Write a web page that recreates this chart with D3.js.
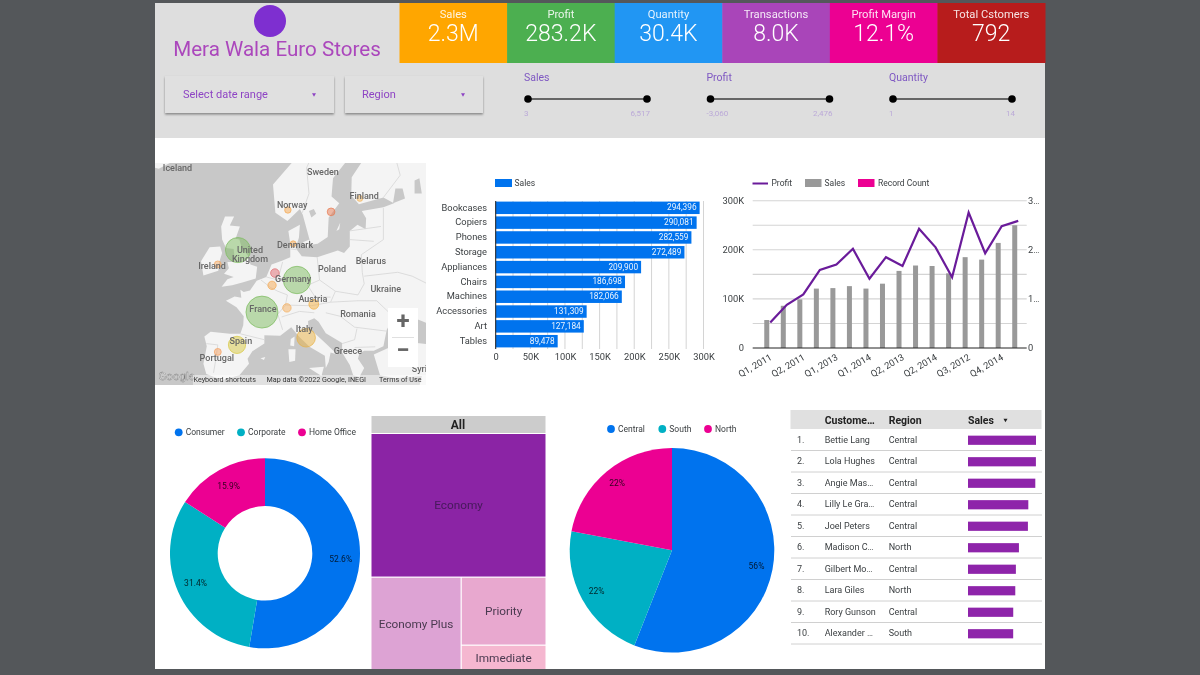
<!DOCTYPE html>
<html><head><meta charset="utf-8">
<script src="https://cdn.jsdelivr.net/npm/d3@7"></script>
<style>
html,body{margin:0;padding:0;background:#54575a;overflow:hidden}
svg{display:block;font-family:Roboto,sans-serif;filter:blur(.35px)}
</style></head><body><svg id="c" width="1200" height="675"></svg>
<script>
// ---------- data ----------
const kpiLabels=["Sales","Profit","Quantity","Transactions","Profit Margin","Total Cstomers"];
const kpiValues=["2.3M","283.2K","30.4K","8.0K","12.1%","792"];
const kpiColors=["#ffa600","#4caf50","#2196f3","#a945b9","#ec0092","#b71c1c"];
const sliderNames=["Sales","Profit","Quantity"];
const sliderMins=["3","-3,060","1"];
const sliderMaxs=["6,517","2,476","14"];

const subCategories=["Bookcases","Copiers","Phones","Storage","Appliances","Chairs","Machines","Accessories","Art","Tables"];
const subCategorySales=[294396,290081,282559,272489,209900,186698,182066,131309,127184,89478];

const quarters=["Q1, 2011","Q3, 2011","Q2, 2011","Q1, 2012","Q1, 2013","Q2, 2012","Q1, 2014","Q4, 2011","Q2, 2013","Q3, 2013","Q2, 2014","Q4, 2012","Q3, 2012","Q4, 2013","Q4, 2014","Q3, 2014"];
const quarterSales=[57000,86000,99000,121000,122000,126000,121000,131000,157000,168000,167000,152000,185000,180000,214000,250000];
const quarterProfit=[5200,8800,10900,15900,17000,20200,14100,18500,16700,24300,20500,14400,27600,19300,24800,25900];
const quarterTickLabels=["Q1, 2011","Q2, 2011","Q1, 2013","Q1, 2014","Q2, 2013","Q2, 2014","Q3, 2012","Q4, 2014"];

const segments=["Consumer","Corporate","Home Office"];
const segmentShare=[52.6,31.4,15.9];
const regions=["Central","South","North"];
const regionShare=[56,22,22];
const shipModes=["Economy","Economy Plus","Priority","Immediate"];
const shipModeShare=[60.6,20.3,13.9,5.2];

const customers=["Bettie Lang","Lola Hughes","Angie Mas…","Lilly Le Gra…","Joel Peters","Madison C…","Gilbert Mo…","Lara Giles","Rory Gunson","Alexander …"];
const customerRegions=["Central","Central","Central","Central","Central","North","Central","North","Central","South"];
const customerSales=[13620,13600,13480,12080,12000,10200,9590,9470,9060,9050];

const bubbleCountries=["France","Germany","United Kingdom","Italy","Spain","Austria","Switzerland","Netherlands","Belgium","Sweden","Ireland","Portugal","Norway","Denmark","Finland"];
const bubbleLon=[2.7,10,-2.3,11.9,-2.5,13.5,7.9,5.4,4.8,17.1,-6.5,-6.5,8.1,9.2,23.1];
const bubbleLat=[46.6,51,54.76,42.8,41.7,47.7,47.2,51.9,50.3,59.1,53,40.6,59.3,55.5,60.5];
const bubbleSales=[858,628,528,290,249,80,60,62,58,50,40,40,35,30,28];
const bubbleTint=["#7dbb5f","#7dbb5f","#7dbb5f","#e8b040","#d8c840","#f5b040","#f5b060","#e06a70","#f5a850","#e8784f","#f5a860","#f5a060","#f5a850","#f5a850","#f5b860"];
const labelNames=["Iceland","Sweden","Finland","Norway","Denmark","United Kingdom","Ireland","Germany","Poland","Belarus","Ukraine","Austria","France","Romania","Italy","Spain","Portugal","Greece","Syria"];
const labelLon=[-14.9,15.4,24,9,9.6,0.2,-7.7,9.2,17.3,25.4,28.5,13.3,2.9,22.7,11.5,-1.7,-6.7,20.6,36];
const labelLat=[63.46,63,60.66,59.8,55.26,54.2,52.66,51.1,52.4,53.4,49.7,48.3,46.9,46.2,44,42.2,39.6,40.7,37.8];

// rough coastlines, [lon,lat]
const landMain=[[-5.6,36],[-8.9,37],[-9.5,38.7],[-8.8,41.5],[-9.3,43],[-8,43.7],[-4,43.4],[-1.8,43.4],[-1.2,44.7],[-1.1,46],[-2.6,47.3],[-4.8,48.2],[-3,48.8],[-1.6,48.6],[-1.8,49.7],[-1.1,49.4],[0.2,49.6],[1.6,50.9],[3.6,51.4],[4.7,53],[7,53.5],[8.6,53.9],[8.6,55.5],[8.2,57],[10.6,57.7],[10.4,56.2],[9.7,55],[11,54],[14.2,53.9],[18.5,54.7],[19.8,54.4],[21,55.2],[21,57],[22.6,57.7],[24.3,57.2],[24.4,58.4],[23.5,59.2],[28,59.6],[30.2,60],[28,60.6],[22.9,59.9],[21.3,60.8],[21.4,62.6],[25.3,65.2],[22.2,65.8],[21.2,64.6],[17.5,62.5],[17.2,60.7],[18.8,60],[16.6,58.5],[16.4,56.3],[14.3,55.5],[12.9,55.4],[11.2,58.8],[10.6,59.4],[8,58.1],[5.5,59],[5,61.9],[10,64.5],[14.5,68],[19,70],[25,71],[31,70],[41,67],[60,68],[60,42],[41,41.5],[37,45],[33.5,46],[30.7,46.5],[28.7,44],[28,41.5],[26,40.8],[24,40.8],[23,40.4],[22.7,39.5],[24,38],[23,36.5],[21.7,36.8],[21,38.5],[19.4,40.5],[19.4,42],[16,43.5],[14.5,45.2],[13.6,45.7],[12.3,45.3],[12.4,44.2],[13.7,43.5],[16,41.9],[18.4,40.2],[17,40.5],[16.6,39],[16,38],[15.8,40],[12.6,41.4],[10.5,42.9],[8.8,44.4],[6.5,43.1],[3.2,43.2],[3.2,41.9],[0.7,40.7],[-0.3,39.5],[0,38.7],[-2,36.8]];
const landBritain=[[-5.7,50.1],[-3.5,50.3],[-1.2,50.7],[1.4,51.2],[1.7,52.7],[0.3,53],[-0.1,54],[-1.5,55],[-2,56],[-2.8,56.1],[-1.9,57.5],[-4,57.6],[-3.1,58.6],[-5,58.6],[-5.8,57.5],[-5.6,56],[-4.8,55],[-3.2,54.9],[-3,53.8],[-3.1,53.3],[-4.5,53.3],[-4.2,52.5],[-5.2,51.8],[-3.2,51.4],[-4.5,51.1]];
const landIreland=[[-6.2,53.3],[-6.4,52.2],[-9.5,51.6],[-10,53.4],[-8.2,55.1],[-6,55.2],[-5.6,54.4]];
const landIceland=[[-22.5,63.9],[-18.8,63.4],[-14.5,64.4],[-13.6,65.2],[-16,66.5],[-22,66.3],[-24,65]];
const landTurkey=[[26,40.2],[29,41.2],[35,42],[41.5,41.5],[60,40],[60,30],[36,30],[34.5,31.5],[36,36.7],[30.5,36.3],[27.3,36.8]];
const landAfrica=[[-6,35.2],[-2,34.8],[3,35],[11,35],[11,33],[-6,33]];
const landIslands=[[[8.4,39],[9.6,39.2],[9.7,41],[8.2,41]],[[8.6,41.6],[9.4,41.5],[9.5,43],[8.7,42.6]],[[12.5,38],[15.6,38.2],[15.1,36.7]],[[11.2,55.7],[12.6,56],[12.3,55]],[[2.4,39.6],[3.4,39.8],[3.1,39.3]],[[18.2,57],[19,57.9],[18.8,57.2]]];
const lakes=[[[30,60],[32.5,60.5],[32,61.5],[30.5,61.5]],[[34.5,61],[36,61],[35.5,62.5],[34.5,62.3]],[[13,58.5],[14,58.9],[13.5,59.4],[12.5,59.2]]];
const borders=[[[-1.8,43.4],[3.2,42.5]],[[-8.9,41.9],[-6.5,41.7],[-7,39],[-7.4,37.2]],[[2.5,51],[4.5,50],[6,49.5],[8,49],[7.6,47.6],[6,46.3],[7,44]],[[3.6,51.4],[6,51],[7,53.3]],[[8.7,54.9],[9.9,54.8]],[[14.2,53.9],[14.7,51],[18,49.5],[22.7,49],[24,50.5],[23.6,52],[23.4,54.2]],[[7.6,47.6],[13,47.5],[17,48],[18,49.5]],[[6.8,45.9],[10.5,46.7],[13.6,46.5]],[[14.7,51],[12.2,50.3],[13.8,48.7],[17,48.7]],[[17,48],[22.7,48.2],[26.6,48.2],[30,46]],[[16,46.5],[19,46],[22,44.4],[28.7,43.8]],[[23.4,54.2],[28,56],[28,59.5]],[[24,51.5],[31,52],[34,51.5],[40,49.6]],[[22,41.3],[26.3,41.4]],[[19.4,41.9],[22,42.5],[22.5,44.2]],[[11.1,59],[12.5,61],[12,63.5],[15,66.3],[18,68.5],[20.5,69],[24,68.6],[28.5,69]],[[23.9,66],[24,68.6]],[[28.5,69],[29.5,66],[31.5,62.8],[28,60.6]],[[21,56],[26,55.8]],[[21,57],[27.5,57.5]]];

// ---------- helpers ----------
const svg=d3.select("#c");
const ink="#3c4043";
function T(g,x,y,s,size,fill,anchor,weight){
  return g.append("text").attr("x",x).attr("y",y).text(s).attr("font-size",size).attr("fill",fill)
    .attr("text-anchor",anchor||"start").attr("font-weight",weight||400).attr("dominant-baseline","middle");
}
const defs=svg.append("defs");
const sh=defs.append("filter").attr("id","sh").attr("x","-5%").attr("y","-10%").attr("width","110%").attr("height","125%");
sh.append("feDropShadow").attr("dx",0).attr("dy",1.5).attr("stdDeviation",1).attr("flood-color","#000").attr("flood-opacity",.4);

// canvas
svg.append("rect").attr("x",155).attr("y",3).attr("width",890).attr("height",666).attr("fill","#fff");
svg.append("rect").attr("x",155).attr("y",3).attr("width",890).attr("height",135).attr("fill","#dedede");

// KPI tiles
const kx=d3.scaleBand().domain(kpiLabels).range([399.5,1045]);
kpiLabels.forEach((k,i)=>{
  const g=svg.append("g");
  g.append("rect").attr("x",kx(k)).attr("y",3).attr("width",kx.bandwidth()+.5).attr("height",60).attr("fill",kpiColors[i]);
  T(g,kx(k)+kx.bandwidth()/2,15,k,11.2,"rgba(255,255,255,.88)","middle");
  T(g,kx(k)+kx.bandwidth()/2,35,kpiValues[i],23,"#fff","middle",300);
});

// title
svg.append("circle").attr("cx",270).attr("cy",21).attr("r",16).attr("fill","#7e2fd0");
T(svg,277,51,"Mera Wala Euro Stores",20.6,"#ab47bc","middle");

// dropdowns
[[165,169,"Select date range",183,314],[345,138,"Region",362,463]].forEach(([x,w,s,tx,ax])=>{
  svg.append("rect").attr("x",x).attr("y",76).attr("width",w).attr("height",37).attr("fill","#e0e0e0").attr("filter","url(#sh)");
  T(svg,tx,95,s,11,"#8e44c4");
  svg.append("path").attr("d",d3.symbol(d3.symbolTriangle,7)()).attr("transform",`translate(${ax},94.5) rotate(180)`).attr("fill","#8e44c4");
});

// sliders
const sliderX=d3.scalePoint().domain(sliderNames).range([528,893]);
sliderNames.forEach((n,i)=>{
  const x0=sliderX(n),x1=x0+119;
  T(svg,x0-4,78.5,n,10.5,"#7e57c2");
  svg.append("line").attr("x1",x0).attr("x2",x1).attr("y1",99).attr("y2",99).attr("stroke","#666").attr("stroke-width",2);
  [x0,x1].forEach(x=>svg.append("circle").attr("cx",x).attr("cy",99).attr("r",3.8).attr("fill","#000"));
  T(svg,x0-4,114,sliderMins[i],8,"#bba9d8");
  T(svg,x1+3,114,sliderMaxs[i],8,"#bba9d8","end");
});

// ---------- map ----------
defs.append("clipPath").attr("id","mc").append("rect").attr("x",155).attr("y",163).attr("width",271).attr("height",222);
const map=svg.append("g").attr("clip-path","url(#mc)");
map.append("rect").attr("x",155).attr("y",163).attr("width",271).attr("height",222).attr("fill","#c8c8c8");
const proj=d3.geoMercator().scale(275).center([10,51]).translate([297,280]);
const landPolys=[landMain,landBritain,landIreland,landIceland,landTurkey,landAfrica,...landIslands];
const clean=r=>"M"+r.map(p=>proj(p).join(",")).join("L")+"Z";
map.selectAll("path.land").data(landPolys).join("path").attr("class","land").attr("d",clean).attr("fill","#f4f4f4");
map.selectAll("path.lake").data(lakes).join("path").attr("class","lake").attr("d",clean).attr("fill","#c8c8c8");
map.selectAll("path.border").data(borders).join("path").attr("class","border").attr("fill","none")
  .attr("d",r=>"M"+r.map(p=>proj(p).join(",")).join("L")).attr("stroke","#d6d6d6").attr("stroke-width",.8);
const rScale=d3.scaleSqrt().domain([0,858]).range([0,16]);
map.selectAll("circle.b").data(bubbleCountries).join("circle").attr("class","b")
  .attr("cx",(d,i)=>proj([bubbleLon[i],bubbleLat[i]])[0]).attr("cy",(d,i)=>proj([bubbleLon[i],bubbleLat[i]])[1])
  .attr("r",(d,i)=>rScale(bubbleSales[i])).attr("fill",(d,i)=>bubbleTint[i]).attr("fill-opacity",.5)
  .attr("stroke",(d,i)=>bubbleTint[i]).attr("stroke-width",.7);
labelNames.forEach((n,i)=>{
  const [x,y]=proj([labelLon[i],labelLat[i]]);
  if(n==="United Kingdom"){
    T(map,x,y-4.5,"United",9,"#666","middle",500);T(map,x,y+4.5,"Kingdom",9,"#666","middle",500);
  } else T(map,x,y,n,9,"#666","middle",500);
});
T(map,158.5,376.5,"Google",11.5,"#f4f4f4").attr("stroke","#777").attr("stroke-width",.4);
map.append("rect").attr("x",193).attr("y",375).attr("width",233).attr("height",10).attr("fill","#fff").attr("opacity",.45);
T(map,193.5,380,"Keyboard shortcuts",7.2,"#333");
T(map,266.5,380,"Map data ©2022 Google, INEGI",7.2,"#333");
T(map,379,380,"Terms of Use",7.2,"#333");
map.append("rect").attr("x",388).attr("y",308).attr("width",30).attr("height",59).attr("fill","#fff");
map.append("line").attr("x1",392).attr("x2",414).attr("y1",337.5).attr("y2",337.5).attr("stroke","#e0e0e0");
T(map,403,323,"+",24,"#666","middle",700);
T(map,403,352,"−",24,"#666","middle",700);

// ---------- horizontal bars ----------
const blue="#0073ee";
const bx=d3.scaleLinear().domain([0,300000]).range([495.7,703.5]);
const by=d3.scaleBand().domain(subCategories).range([201,348]).paddingInner(.16).paddingOuter(.04);
const bars=svg.append("g");
bars.append("g").selectAll("line").data(d3.range(0,300001,25000)).join("line")
  .attr("x1",d=>bx(d)).attr("x2",d=>bx(d)).attr("y1",201).attr("y2",349).attr("stroke","#d4d4d4");
bars.selectAll("rect.bar").data(subCategories).join("rect").attr("class","bar")
  .attr("x",bx(0)).attr("y",d=>by(d)).attr("height",by.bandwidth())
  .attr("width",(d,i)=>bx(subCategorySales[i])-bx(0)).attr("fill",blue);
subCategories.forEach((c,i)=>{
  T(bars,bx(subCategorySales[i])-3,by(c)+by.bandwidth()/2+.3,d3.format(",")(subCategorySales[i]),8.3,"rgba(255,255,255,.92)","end");
  T(bars,487,by(c)+by.bandwidth()/2+.3,c,9.3,ink,"end");
});
bars.append("line").attr("x1",bx(0)).attr("x2",bx(0)).attr("y1",201).attr("y2",349).attr("stroke","#222");
const bAxis=bars.append("g").attr("transform","translate(0,349)")
  .call(d3.axisBottom(bx).tickValues(d3.range(0,300001,50000)).tickSize(0).tickPadding(4).tickFormat(d=>d?d/1000+"K":"0"));
bAxis.select(".domain").remove();
bAxis.selectAll("text").attr("font-size",9.3).attr("fill",ink).attr("font-family","Roboto");
bars.append("rect").attr("x",495).attr("y",179).attr("width",17).attr("height",8).attr("fill",blue);
T(bars,514.5,183.5,"Sales",8.5,ink);

// ---------- combo ----------
const purple="#6a1b9a",gray="#999";
const cx=d3.scaleBand().domain(quarters).range([762,1026.5]);
const center=d=>cx(d)+cx.bandwidth()/2;
const yL=d3.scaleLinear().domain([0,300000]).range([348,200.7]);
const yR=d3.scaleLinear().domain([0,30000]).range([348,200.7]);
const combo=svg.append("g");
combo.append("g").selectAll("line").data(d3.range(0,300001,50000).slice(1)).join("line")
  .attr("x1",752.7).attr("x2",1026.7).attr("y1",d=>yL(d)).attr("y2",d=>yL(d)).attr("stroke","#d4d4d4").attr("stroke-width",1.1);
combo.selectAll("rect.s").data(quarters).join("rect").attr("class","s")
  .attr("x",d=>center(d)-6).attr("width",5).attr("y",(d,i)=>yL(quarterSales[i])).attr("height",(d,i)=>348-yL(quarterSales[i])).attr("fill",gray);
combo.append("line").attr("x1",752.7).attr("x2",1026.7).attr("y1",348).attr("y2",348).attr("stroke","#222").attr("stroke-width",1);
combo.append("path").datum(quarters).attr("fill","none").attr("stroke",purple).attr("stroke-width",2.2)
  .attr("d",d3.line().x(d=>center(d)).y((d,i)=>yR(quarterProfit[i])));
const aL=combo.append("g").attr("transform","translate(744,0)")
  .call(d3.axisLeft(yL).tickValues([0,100000,200000,300000]).tickSize(0).tickPadding(0).tickFormat(d=>d?d/1000+"K":"0"));
aL.select(".domain").remove();aL.selectAll("text").attr("font-size",9.3).attr("fill",ink).attr("font-family","Roboto");
const aR=combo.append("g").attr("transform","translate(1028,0)")
  .call(d3.axisRight(yR).tickValues([0,10000,20000,30000]).tickSize(0).tickPadding(0).tickFormat(d=>d?(d/10000)+"…":"0"));
aR.select(".domain").remove();aR.selectAll("text").attr("font-size",9.3).attr("fill",ink).attr("font-family","Roboto");
quarterTickLabels.forEach(q=>{
  const x=center(q)+1,y=357;
  combo.append("text").attr("transform",`translate(${x},${y}) rotate(-30)`).attr("text-anchor","end")
    .attr("dominant-baseline","middle").attr("font-size",9.3).attr("fill",ink).text(q);
});
combo.append("line").attr("x1",752.5).attr("x2",768).attr("y1",183.5).attr("y2",183.5).attr("stroke",purple).attr("stroke-width",2);
T(combo,771.5,183.5,"Profit",8.5,ink);
combo.append("rect").attr("x",805).attr("y",179).attr("width",16.5).attr("height",8).attr("fill",gray);
T(combo,824.5,183.5,"Sales",8.5,ink);
combo.append("rect").attr("x",858).attr("y",179).attr("width",16.5).attr("height",8).attr("fill","#ec0092");
T(combo,878,183.5,"Record Count",8.5,ink);

// ---------- donut + pie ----------
const sliceColors=["#0073ee","#00b0c4","#ec0092"];
function pieChart(names,vals,cxp,cyp,ro,ri,lr,fmt,legendC,legendT){
  const g=svg.append("g").attr("transform",`translate(${cxp},${cyp})`);
  const arcs=d3.pie().sort(null)(vals);
  g.selectAll("path").data(arcs).join("path").attr("d",d3.arc().innerRadius(ri).outerRadius(ro)).attr("fill",(d,i)=>sliceColors[i]);
  const la=d3.arc().innerRadius(lr).outerRadius(lr);
  arcs.forEach((a,i)=>{const c=la.centroid(a);T(g,c[0],c[1],fmt(vals[i]),8.5,"rgba(0,0,0,.78)","middle");});
  names.forEach((n,i)=>{
    svg.append("circle").attr("cx",legendC[i]).attr("cy",legendT[0]).attr("r",3.9).attr("fill",sliceColors[i]);
    T(svg,legendC[i]+7,legendT[0]+.3,n,8.5,ink);
  });
}
pieChart(segments,segmentShare,265,553.3,95,47.3,76,d=>d.toFixed(1)+"%",[178.7,241,302],[432.3]);
pieChart(regions,regionShare,672,550.3,102.3,0,86,d=>d+"%",[611,662.3,708],[429]);

// ---------- treemap ----------
const tree=svg.append("g");
defs.append("clipPath").attr("id","tc").append("rect").attr("x",371).attr("y",416).attr("width",175).attr("height",253);
tree.attr("clip-path","url(#tc)");
tree.append("rect").attr("x",371.5).attr("y",416).attr("width",174).attr("height",17).attr("fill","#cccccc");
T(tree,458,425.5,"All",12,"#222","middle",700);
const root=d3.hierarchy({children:shipModes.map((n,i)=>({n,v:shipModeShare[i]}))}).sum(d=>d.v||0);
d3.treemap().tile(d3.treemapBinary).size([174,236]).paddingInner(1.2)(root);
const treeFill={"Economy":"#8b24a5","Economy Plus":"#dda3d4","Priority":"#e8a8cf","Immediate":"#f5b7d0"};
const tn=tree.append("g").attr("transform","translate(371.5,434)");
root.leaves().forEach(l=>{
  tn.append("rect").attr("x",l.x0).attr("y",l.y0).attr("width",l.x1-l.x0).attr("height",l.y1-l.y0).attr("fill",treeFill[l.data.n]);
  const isEco=l.data.n==="Economy";
  T(tn,(l.x0+l.x1)/2,(l.y0+l.y1)/2+(l.data.n==="Immediate"?1:.7),l.data.n,11.8,isEco?"#45195a":"#4a3a50","middle");
});

// ---------- table ----------
const tbl=svg.append("g");
tbl.append("rect").attr("x",790.5).attr("y",410).attr("width",251).attr("height",19).attr("fill","#e0e0e0");
T(tbl,824.7,420.8,"Custome…",10.5,"#222","start",700);
T(tbl,888.7,420.8,"Region",10.5,"#222","start",700);
T(tbl,968,420.8,"Sales",10.5,"#222","start",700);
tbl.append("path").attr("d",d3.symbol(d3.symbolTriangle,7)()).attr("transform","translate(1005.5,420) rotate(180)").attr("fill","#222");
const rowY=d3.scaleBand().domain(d3.range(10)).range([429,644]);
const salesW=d3.scaleLinear().domain([0,d3.max(customerSales)]).range([0,68]);
customers.forEach((c,i)=>{
  const y=rowY(i)+rowY.bandwidth()/2+.5;
  T(tbl,797,y,(i+1)+".",9,ink);
  T(tbl,824.7,y,c,9,ink);
  T(tbl,888.7,y,customerRegions[i],9,ink);
  tbl.append("rect").attr("x",968).attr("y",y-4.6).attr("width",salesW(customerSales[i])).attr("height",9.2).attr("fill","#8e24aa");
  tbl.append("line").attr("x1",791).attr("x2",1042).attr("y1",rowY(i)+rowY.bandwidth()).attr("y2",rowY(i)+rowY.bandwidth()).attr("stroke","#d0d0d0");
});
</script></body></html>
